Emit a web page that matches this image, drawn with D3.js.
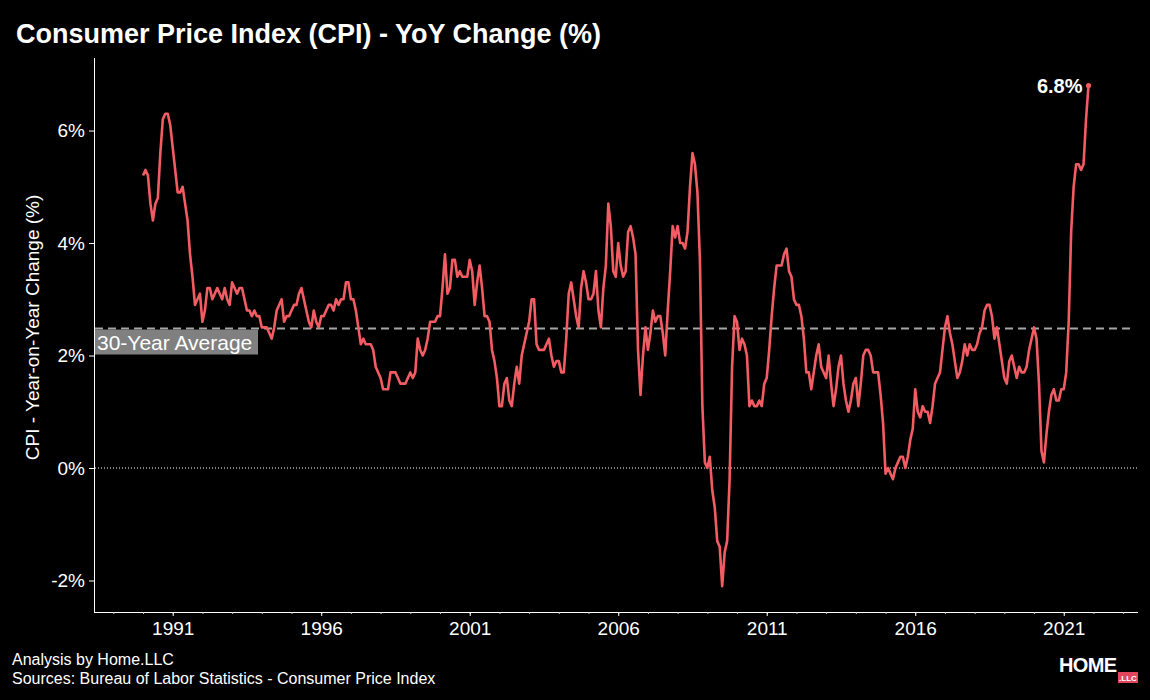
<!DOCTYPE html>
<html>
<head>
<meta charset="utf-8">
<script src="https://d3js.org/d3.v7.min.js"></script>
<style>
  body { margin: 0; background: #000; }
  text { font-family: "Liberation Sans", Arial, sans-serif; }
</style>
</head>
<body>
<svg id="vis"></svg>

<script>
  // monthly CPI YoY change (%), starting Jan 1990
  var startYear = 1990;
  var cpiYoY = [
    5.2, 5.3, 5.2, 4.7, 4.4, 4.7, 4.8, 5.6, 6.2, 6.3, 6.3, 6.1,
    5.7, 5.3, 4.9, 4.9, 5.0, 4.7, 4.4, 3.8, 3.4, 2.9, 3.0, 3.1,
    2.6, 2.8, 3.2, 3.2, 3.0, 3.1, 3.2, 3.1, 3.0, 3.2, 3.0, 2.9,
    3.3, 3.2, 3.1, 3.2, 3.2, 3.0, 2.8, 2.8, 2.7, 2.8, 2.7, 2.7,
    2.5, 2.5, 2.5, 2.4, 2.3, 2.5, 2.8, 2.9, 3.0, 2.6, 2.7, 2.7,
    2.8, 2.9, 2.9, 3.1, 3.2, 3.0, 2.8, 2.6, 2.5, 2.8, 2.6, 2.5,
    2.7, 2.7, 2.8, 2.9, 2.9, 2.8, 3.0, 2.9, 3.0, 3.0, 3.3, 3.3,
    3.0, 3.0, 2.8, 2.5, 2.2, 2.3, 2.2, 2.2, 2.2, 2.1, 1.8, 1.7,
    1.6, 1.4, 1.4, 1.4, 1.7, 1.7, 1.7, 1.6, 1.5, 1.5, 1.5, 1.6,
    1.7, 1.6, 1.7, 2.3, 2.1, 2.0, 2.1, 2.3, 2.6, 2.6, 2.6, 2.7,
    2.7, 3.2, 3.8, 3.1, 3.2, 3.7, 3.7, 3.4, 3.5, 3.4, 3.4, 3.4,
    3.7, 3.5, 2.9, 3.3, 3.6, 3.2, 2.7, 2.7, 2.6, 2.1, 1.9, 1.6,
    1.1, 1.1, 1.5, 1.6, 1.2, 1.1, 1.5, 1.8, 1.5, 2.0, 2.2, 2.4,
    2.6, 3.0, 3.0, 2.2, 2.1, 2.1, 2.1, 2.2, 2.3, 2.0, 1.8, 1.9,
    1.9, 1.7, 1.7, 2.3, 3.1, 3.3, 3.0, 2.7, 2.5, 3.2, 3.5, 3.3,
    3.0, 3.0, 3.1, 3.5, 2.8, 2.5, 3.2, 3.6, 4.7, 4.3, 3.5, 3.4,
    4.0, 3.6, 3.4, 3.5, 4.2, 4.3, 4.1, 3.8, 2.1, 1.3, 2.0, 2.5,
    2.1, 2.4, 2.8, 2.6, 2.7, 2.7, 2.4, 2.0, 2.8, 3.5, 4.3, 4.1,
    4.3, 4.0, 4.0, 3.9, 4.2, 5.0, 5.6, 5.4, 4.9, 3.7, 1.1, 0.1,
    0.0, 0.2, -0.4, -0.7, -1.3, -1.4, -2.1, -1.5, -1.3, -0.2, 1.8, 2.7,
    2.6, 2.1, 2.3, 2.2, 2.0, 1.1, 1.2, 1.1, 1.1, 1.2, 1.1, 1.5,
    1.6, 2.1, 2.7, 3.2, 3.6, 3.6, 3.6, 3.8, 3.9, 3.5, 3.4, 3.0,
    2.9, 2.9, 2.7, 2.3, 1.7, 1.7, 1.4, 1.7, 2.0, 2.2, 1.8, 1.7,
    1.6, 2.0, 1.5, 1.1, 1.4, 1.8, 2.0, 1.5, 1.2, 1.0, 1.2, 1.5,
    1.6, 1.1, 1.5, 2.0, 2.1, 2.1, 2.0, 1.7, 1.7, 1.7, 1.3, 0.8,
    -0.1, 0.0, -0.1, -0.2, 0.0, 0.1, 0.2, 0.2, 0.0, 0.2, 0.5, 0.7,
    1.4, 1.0, 0.9, 1.1, 1.0, 1.0, 0.8, 1.1, 1.5, 1.6, 1.7, 2.1,
    2.5, 2.7, 2.4, 2.2, 1.9, 1.6, 1.7, 1.9, 2.2, 2.0, 2.2, 2.1,
    2.1, 2.2, 2.4, 2.5, 2.8, 2.9, 2.9, 2.7, 2.3, 2.5, 2.2, 1.9,
    1.6, 1.5, 1.9, 2.0, 1.8, 1.6, 1.8, 1.7, 1.7, 1.8, 2.1, 2.3,
    2.5, 2.3, 1.5, 0.3, 0.1, 0.6, 1.0, 1.3, 1.4, 1.2, 1.2, 1.4,
    1.4, 1.7, 2.6, 4.2, 5.0, 5.4, 5.4, 5.3, 5.4, 6.2, 6.8
  ];
  var average30 = 2.48;
  var yTicks = [-2, 0, 2, 4, 6];
  var xMinorTicks = d3.range(1989, 2024);
  var xLabelTicks = [1991, 1996, 2001, 2006, 2011, 2016, 2021];

  var data = cpiYoY.map(function(v, i) {
    return { t: startYear + i / 12, v: v };
  });

  var svg = d3.select("#vis")
    .attr("width", 1150)
    .attr("height", 700)
    .style("background", "#000");

  var x = d3.scaleLinear().domain([1988.35, 2023.5]).range([94, 1138]);
  var y = d3.scaleLinear().domain([-2.56, 7.29]).range([612, 58]);

  // title
  svg.append("text")
    .attr("x", 16).attr("y", 43)
    .attr("fill", "#fff")
    .attr("font-size", 27).attr("font-weight", "bold")
    .text("Consumer Price Index (CPI) - YoY Change (%)");

  // y axis
  var yAxis = svg.append("g")
    .attr("transform", "translate(94,0)")
    .call(d3.axisLeft(y).tickValues(yTicks).tickSize(5)
      .tickFormat(function(d) { return d + "%"; }));
  yAxis.select(".domain").attr("stroke", "#fff").attr("d", "M0.5," + y.range()[1] + "V" + (y.range()[0] + 0.5));
  yAxis.selectAll(".tick line").attr("stroke", "#fff");
  yAxis.selectAll(".tick text").attr("fill", "#fff").attr("font-size", 19)
    .attr("font-family", "Liberation Sans, Arial, sans-serif").attr("x", -9);

  // x axis: minor ticks every year, labels every 5
  var xAxis = svg.append("g")
    .attr("transform", "translate(0,612)")
    .call(d3.axisBottom(x).tickValues(xMinorTicks).tickSize(2).tickFormat(""));
  xAxis.select(".domain").attr("stroke", "#fff").attr("d", "M" + x.range()[0] + ",0.5H" + x.range()[1]);
  xAxis.selectAll(".tick line").attr("stroke", "#ccc");

  var xLab = svg.append("g")
    .attr("transform", "translate(0,612)")
    .call(d3.axisBottom(x).tickValues(xLabelTicks).tickSize(4).tickFormat(d3.format("d")));
  xLab.select(".domain").remove();
  xLab.selectAll(".tick line").attr("stroke", "#fff");
  xLab.selectAll(".tick text").attr("fill", "#fff").attr("font-size", 19)
    .attr("font-family", "Liberation Sans, Arial, sans-serif").attr("y", 10);

  // y axis title
  svg.append("text")
    .attr("transform", "translate(39," + y(2.5) + ") rotate(-90)")
    .attr("text-anchor", "middle")
    .attr("fill", "#fff").attr("font-size", 19)
    .text("CPI - Year-on-Year Change (%)");

  // zero line
  svg.append("line")
    .attr("x1", x.range()[0] + 1).attr("x2", x.range()[1])
    .attr("y1", y(0)).attr("y2", y(0))
    .attr("stroke", "#fff").attr("stroke-width", 1)
    .attr("stroke-dasharray", "1,2");

  // average line
  svg.append("line")
    .attr("x1", x.range()[0] + 1).attr("x2", x.range()[1] - 3)
    .attr("y1", y(average30)).attr("y2", y(average30))
    .attr("stroke", "#a6a6a6").attr("stroke-width", 2)
    .attr("stroke-dasharray", "8,5");

  // CPI line
  var line = d3.line()
    .x(function(d) { return x(d.t); })
    .y(function(d) { return y(d.v); });

  svg.append("path")
    .datum(data)
    .attr("d", line)
    .attr("fill", "none")
    .attr("stroke", "#f25c62")
    .attr("stroke-width", 2.6)
    .attr("stroke-linejoin", "round");

  var last = data[data.length - 1];
  svg.append("circle")
    .attr("cx", x(last.t)).attr("cy", y(last.v)).attr("r", 2.6)
    .attr("fill", "#f25c62");
  svg.append("text")
    .attr("x", x(last.t) - 6).attr("y", y(last.v) + 7)
    .attr("text-anchor", "end")
    .attr("fill", "#fff").attr("font-size", 20).attr("font-weight", "bold")
    .text(last.v.toFixed(1) + "%");

  // 30-year average label
  var avgLabel = svg.append("g").attr("transform", "translate(95," + (y(average30) + 1) + ")");
  avgLabel.append("rect")
    .attr("width", 163).attr("height", 25)
    .attr("fill", "#808080");
  avgLabel.append("text")
    .attr("x", 2).attr("y", 20)
    .attr("fill", "#fff").attr("font-size", 21)
    .text("30-Year Average");

  // footer
  svg.append("text")
    .attr("x", 12).attr("y", 665)
    .attr("fill", "#fff").attr("font-size", 16)
    .text("Analysis by Home.LLC");
  svg.append("text")
    .attr("x", 12).attr("y", 684)
    .attr("fill", "#fff").attr("font-size", 16)
    .text("Sources: Bureau of Labor Statistics - Consumer Price Index");

  // logo
  svg.append("text")
    .attr("x", 1059).attr("y", 672)
    .attr("fill", "#fff").attr("font-size", 20).attr("font-weight", "bold")
    .attr("textLength", 58)
    .text("HOME");
  svg.append("rect")
    .attr("x", 1118).attr("y", 672).attr("width", 20).attr("height", 11)
    .attr("fill", "#e0475f");
  svg.append("text")
    .attr("x", 1128).attr("y", 681)
    .attr("text-anchor", "middle")
    .attr("fill", "#fff").attr("font-size", 8).attr("font-weight", "bold")
    .text(".LLC");
</script>
</body>
</html>
